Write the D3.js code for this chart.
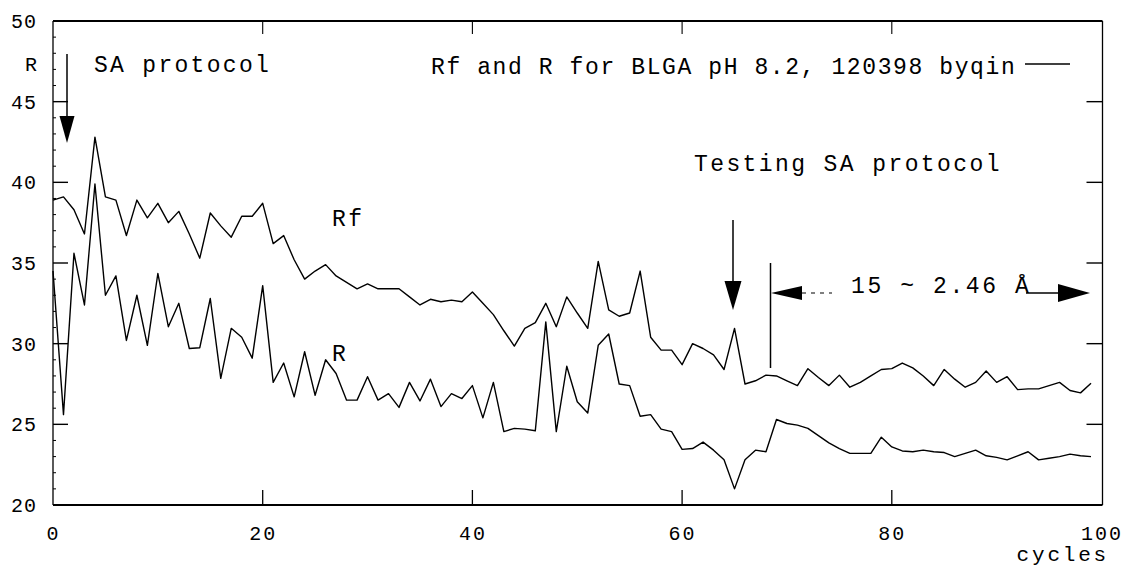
<!DOCTYPE html>
<html>
<head>
<meta charset="utf-8">
<script src="https://cdn.jsdelivr.net/npm/d3@7"></script>
<style>
  html, body { margin: 0; padding: 0; background: #fff; }
  svg { display: block; }
  text { font-family: "Liberation Mono", "DejaVu Sans Mono", monospace; fill: #000; }
</style>
</head>
<body>
<svg id="chart" width="1125" height="570"></svg>
<script>
// Refinement cycles (x) and the two residual factors per cycle
const cycles = d3.range(0, 100);

const rfValues = [
  38.9, 39.1, 38.3, 36.8, 42.8, 39.1, 38.9, 36.7, 38.9, 37.8,
  38.7, 37.5, 38.2, 36.8, 35.3, 38.1, 37.3, 36.6, 37.9, 37.9,
  38.7, 36.2, 36.7, 35.2, 34.0, 34.5, 34.9, 34.2, 33.8, 33.4,
  33.7, 33.4, 33.4, 33.4, 32.9, 32.4, 32.75, 32.6, 32.7, 32.6,
  33.2, 32.5, 31.8, 30.8, 29.85, 30.95, 31.3, 32.5, 31.05, 32.9,
  31.9, 30.95, 35.1, 32.1, 31.7, 31.9, 34.5, 30.4, 29.6, 29.6,
  28.7, 30.0, 29.7, 29.3, 28.4, 30.95, 27.5, 27.7, 28.05, 28.0,
  27.7, 27.4, 28.45, 27.9, 27.4, 28.05, 27.3, 27.6, 28.0, 28.4,
  28.45, 28.8, 28.5, 28.0, 27.4, 28.4, 27.8, 27.3, 27.6, 28.3,
  27.6, 27.95, 27.15, 27.2, 27.2, 27.4, 27.6, 27.1, 26.95, 27.55
];

const rValues = [
  34.5, 25.6, 35.6, 32.4, 39.9, 33.0, 34.2, 30.2, 33.0, 29.9,
  34.35, 31.05, 32.5, 29.7, 29.75, 32.8, 27.85, 30.95, 30.4, 29.1,
  33.6, 27.6, 28.8, 26.7, 29.5, 26.8, 29.0, 28.15, 26.5, 26.5,
  27.95, 26.5, 26.9, 26.05, 27.6, 26.45, 27.8, 26.1, 26.9, 26.6,
  27.4, 25.4, 27.6, 24.55, 24.75, 24.7, 24.6, 31.35, 24.55, 28.6,
  26.4, 25.7, 29.9, 30.6, 27.5, 27.4, 25.5, 25.6, 24.7, 24.55,
  23.45, 23.5, 23.9, 23.4, 22.8, 21.0, 22.8, 23.4, 23.3, 25.3,
  25.05, 24.95, 24.75, 24.3, 23.85, 23.5, 23.2, 23.2, 23.2, 24.2,
  23.6, 23.35, 23.3, 23.4, 23.3, 23.25, 23.0, 23.2, 23.4, 23.05,
  22.95, 22.8, 23.05, 23.3, 22.8, 22.9, 23.0, 23.15, 23.05, 23.0
];

const xTicks = [0, 20, 40, 60, 80, 100];
const yTicks = [20, 25, 30, 35, 40, 45, 50];

const legendText = "Rf and R for BLGA pH 8.2, 120398 byqin";
const startLabel = "SA protocol";
const testLabel = "Testing SA protocol";
const rangeLabel = "15 ~ 2.46 Å";

const svg = d3.select("#chart");
const plot = { left: 53, right: 1101.5, top: 21, bottom: 505 };

const x = d3.scaleLinear().domain([0, 100]).range([plot.left, plot.right]);
const y = d3.scaleLinear().domain([20, 50]).range([plot.bottom, plot.top]);

const ink = "#000";

// Frame
svg.append("line").attr("x1", plot.left).attr("x2", plot.right + 1).attr("y1", plot.top).attr("y2", plot.top)
  .attr("stroke", ink).attr("stroke-width", 2);
svg.append("line").attr("x1", plot.left).attr("x2", plot.right + 1).attr("y1", plot.bottom).attr("y2", plot.bottom)
  .attr("stroke", ink).attr("stroke-width", 2);
svg.append("line").attr("x1", plot.left).attr("x2", plot.left).attr("y1", plot.top).attr("y2", plot.bottom)
  .attr("stroke", ink).attr("stroke-width", 1.3);
svg.append("line").attr("x1", plot.right + 1).attr("x2", plot.right + 1).attr("y1", plot.top).attr("y2", plot.bottom)
  .attr("stroke", ink).attr("stroke-width", 1.3);

// Left axis: labels, major and minor ticks pointing inward
const leftAxis = d3.axisLeft(y).tickValues(yTicks).tickSize(0).tickPadding(16)
  .tickFormat(d3.format("d"));
const gL = svg.append("g").attr("transform", `translate(${plot.left},0)`).call(leftAxis);
gL.select(".domain").remove();
gL.selectAll("text").style("font-size", "20px").style("letter-spacing", "1px")
  .style("font-family", "'Liberation Mono', monospace");

svg.append("g").selectAll("line").data(yTicks.filter(d => d > 20 && d < 50)).join("line")
  .attr("x1", plot.left).attr("x2", plot.left + 15).attr("y1", d => y(d)).attr("y2", d => y(d))
  .attr("stroke", ink).attr("stroke-width", 1.4);
svg.append("g").selectAll("line").data(d3.range(21, 50).filter(d => d % 5 !== 0)).join("line")
  .attr("x1", plot.left).attr("x2", plot.left + 3).attr("y1", d => y(d)).attr("y2", d => y(d))
  .attr("stroke", ink).attr("stroke-width", 1);

// Right axis ticks
svg.append("g").selectAll("line").data(yTicks.filter(d => d > 20 && d < 50)).join("line")
  .attr("x1", plot.right + 1).attr("x2", plot.right - 15).attr("y1", d => y(d)).attr("y2", d => y(d))
  .attr("stroke", ink).attr("stroke-width", 1.4);

// Bottom axis labels and ticks
const bottomAxis = d3.axisBottom(x).tickValues(xTicks).tickSize(0).tickPadding(21)
  .tickFormat(d3.format("d"));
const gB = svg.append("g").attr("transform", `translate(0,${plot.bottom})`).call(bottomAxis);
gB.select(".domain").remove();
gB.selectAll("text").style("font-size", "20px").style("letter-spacing", "2px")
  .style("font-family", "'Liberation Mono', monospace");

const innerX = xTicks.filter(d => d > 0 && d < 100);
svg.append("g").selectAll("line").data(innerX).join("line")
  .attr("x1", d => x(d)).attr("x2", d => x(d)).attr("y1", plot.bottom).attr("y2", plot.bottom - 15)
  .attr("stroke", ink).attr("stroke-width", 1.3);
svg.append("g").selectAll("line").data(innerX).join("line")
  .attr("x1", d => x(d)).attr("x2", d => x(d)).attr("y1", plot.top).attr("y2", plot.top + 13)
  .attr("stroke", ink).attr("stroke-width", 1.1);

// Axis titles
svg.append("text").attr("x", 31).attr("y", 71).attr("text-anchor", "middle")
  .style("font-size", "20px").text("R");
svg.append("text").attr("x", 1109).attr("y", 561).attr("text-anchor", "end")
  .style("font-size", "21px").style("letter-spacing", "2.8px").text("cycles");

// Curves
const line = d3.line().x((d, i) => x(cycles[i])).y(d => y(d)).curve(d3.curveLinear);
svg.append("path").datum(rfValues).attr("d", line)
  .attr("fill", "none").attr("stroke", ink).attr("stroke-width", 1.4).attr("stroke-linejoin", "round");
svg.append("path").datum(rValues).attr("d", line)
  .attr("fill", "none").attr("stroke", ink).attr("stroke-width", 1.4).attr("stroke-linejoin", "round");

// Curve labels
svg.append("text").attr("x", 332).attr("y", 226).style("font-size", "23px")
  .style("letter-spacing", "2.5px").text("Rf");
svg.append("text").attr("x", 332).attr("y", 361).style("font-size", "23px").text("R");

// Legend
svg.append("text").attr("x", 431).attr("y", 74).style("font-size", "23px")
  .style("letter-spacing", "1.6px").text(legendText);
svg.append("line").attr("x1", 1025).attr("x2", 1070).attr("y1", 64).attr("y2", 64)
  .attr("stroke", ink).attr("stroke-width", 1.5);

// Annotations
svg.append("text").attr("x", 94).attr("y", 72).style("font-size", "23px")
  .style("letter-spacing", "2.3px").text(startLabel);
svg.append("text").attr("x", 694).attr("y", 171).style("font-size", "23px")
  .style("letter-spacing", "2.4px").text(testLabel);
svg.append("text").attr("x", 851).attr("y", 293).style("font-size", "23px")
  .style("letter-spacing", "2.6px").text(rangeLabel);

function downArrow(cx, y0, yBase, yTip, halfW) {
  svg.append("line").attr("x1", cx).attr("x2", cx).attr("y1", y0).attr("y2", yBase)
    .attr("stroke", ink).attr("stroke-width", 1.5);
  svg.append("path")
    .attr("d", `M${cx - halfW},${yBase} L${cx + halfW},${yBase} L${cx},${yTip} Z`)
    .attr("fill", ink);
}
downArrow(67, 54, 116, 143, 7.5);
downArrow(733, 220, 281, 310, 8.5);

// Range bracket for the last refinement window
const rangeY = 293;
svg.append("line").attr("x1", 770.5).attr("x2", 770.5).attr("y1", 263).attr("y2", 368)
  .attr("stroke", ink).attr("stroke-width", 1.5);
svg.append("path").attr("d", `M771,${rangeY} L802,${rangeY - 7} L802,${rangeY + 7} Z`).attr("fill", ink);
svg.append("line").attr("x1", 802).attr("x2", 832).attr("y1", rangeY).attr("y2", rangeY)
  .attr("stroke", ink).attr("stroke-width", 1.2).attr("stroke-dasharray", "4,5");
svg.append("line").attr("x1", 1026).attr("x2", 1060).attr("y1", rangeY).attr("y2", rangeY)
  .attr("stroke", ink).attr("stroke-width", 1.5);
svg.append("path").attr("d", `M1058,${rangeY - 9} L1090,${rangeY} L1058,${rangeY + 9} Z`).attr("fill", ink);
</script>
</body>
</html>
